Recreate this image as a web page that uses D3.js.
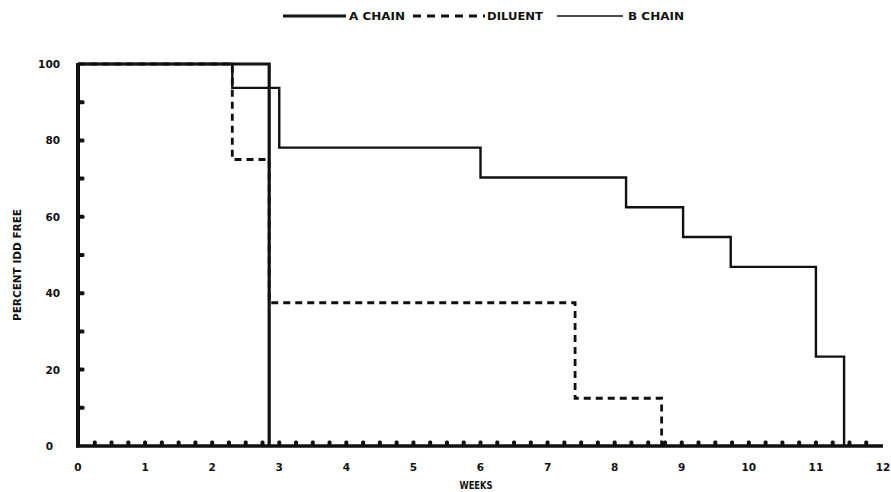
<!DOCTYPE html>
<html><head><meta charset="utf-8">
<script src="https://cdn.jsdelivr.net/npm/d3@7"></script>
<style>html,body{margin:0;padding:0;background:#fff;} svg{display:block;}</style>
</head><body>
<svg id="c" width="891" height="492"></svg>
<script>
// ---- data ----
const aChainTimes = [0, 2.85];
const aChainValues = [100, 0];
const diluentTimes = [0, 2.3, 2.85, 7.41, 8.7];
const diluentValues = [100, 75, 37.5, 12.5, 0];
const bChainTimes = [0, 2.3, 3.0, 6.0, 8.17, 9.02, 9.73, 11.0, 11.42];
const bChainValues = [100, 93.75, 78.1, 70.3, 62.5, 54.7, 46.9, 23.4, 0];
const xTickLabels = [0,1,2,3,4,5,6,7,8,9,10,11,12];
const yTickLabels = [0,20,40,60,80,100];
const legendLabels = ["A CHAIN", "DILUENT", "B CHAIN"];
const xTitle = "WEEKS";
const yTitle = "PERCENT IDD FREE";

const svg = d3.select("#c");
const x = d3.scaleLinear().domain([0,12]).range([78,883]);
const y = d3.scaleLinear().domain([0,100]).range([446,64]);
const ink = "#111";
const font = "'DejaVu Sans', sans-serif";

// axes lines
svg.append("line").attr("x1",x(0)).attr("x2",x(0)).attr("y1",y(0)+1.5).attr("y2",y(100)-1)
  .attr("stroke",ink).attr("stroke-width",4);
svg.append("line").attr("x1",x(0)-2).attr("x2",x(12)).attr("y1",y(0)).attr("y2",y(0))
  .attr("stroke",ink).attr("stroke-width",3.5);

// minor bumps
const xMinor = d3.range(1,48).map(i=>i*0.25);
svg.append("g").selectAll("rect").data(xMinor).join("rect")
  .attr("x",d=>x(d)-2).attr("y",y(0)-5.5).attr("width",4).attr("height",5).attr("rx",1.5)
  .attr("fill",ink);
const yMinor = d3.range(10,100,10);
svg.append("g").selectAll("rect").data(yMinor).join("rect")
  .attr("x",x(0)).attr("y",d=>y(d)-2).attr("width",6.5).attr("height",4).attr("rx",1.5)
  .attr("fill",ink);

// tick labels
svg.append("g").selectAll("text").data(xTickLabels).join("text")
  .attr("x",d=>x(d)).attr("y",471).attr("text-anchor","middle")
  .attr("font-family",font).attr("font-weight","bold").attr("font-size",10.5).attr("fill",ink)
  .text(d=>d);
svg.append("g").selectAll("text").data(yTickLabels).join("text")
  .attr("x",d=> d===0 ? 53 : 60).attr("y",d=>y(d)+4).attr("text-anchor","end")
  .attr("font-family",font).attr("font-weight","bold").attr("font-size",10.5).attr("fill",ink)
  .text(d=>d);

// axis titles
svg.append("text").attr("x",476).attr("y",489).attr("text-anchor","middle")
  .attr("font-family",font).attr("font-weight","bold").attr("font-size",10.5)
  .attr("textLength",33).attr("lengthAdjust","spacingAndGlyphs").attr("fill",ink).text(xTitle);
svg.append("text").attr("transform","translate(21,265) rotate(-90)").attr("text-anchor","middle")
  .attr("font-family",font).attr("font-weight","bold").attr("font-size",10.5)
  .attr("textLength",112).attr("lengthAdjust","spacingAndGlyphs").attr("fill",ink).text(yTitle);

// step lines
const stepLine = d3.line().x(d=>x(d[0])).y(d=>y(d[1])).curve(d3.curveStepAfter);
const zipS = (t,v)=>t.map((ti,i)=>[ti,v[i]]);
svg.append("path").attr("d",stepLine(zipS(bChainTimes,bChainValues)))
  .attr("fill","none").attr("stroke",ink).attr("stroke-width",2.4);
svg.append("path").attr("d",stepLine(zipS(diluentTimes,diluentValues)))
  .attr("fill","none").attr("stroke",ink).attr("stroke-width",2.8).attr("stroke-dasharray","7,5");
svg.append("path").attr("d",stepLine(zipS(aChainTimes,aChainValues)))
  .attr("fill","none").attr("stroke",ink).attr("stroke-width",3.2);

// legend
const lg = svg.append("g");
const ly = 16;
lg.append("line").attr("x1",283).attr("x2",346).attr("y1",ly).attr("y2",ly).attr("stroke",ink).attr("stroke-width",3);
lg.append("line").attr("x1",413).attr("x2",485).attr("y1",ly).attr("y2",ly).attr("stroke",ink).attr("stroke-width",3).attr("stroke-dasharray","8,6");
lg.append("line").attr("x1",557).attr("x2",623).attr("y1",ly).attr("y2",ly).attr("stroke",ink).attr("stroke-width",1.5);
const lx = [349, 487, 628];
lg.selectAll("text").data(legendLabels).join("text")
  .attr("x",(d,i)=>lx[i]).attr("y",ly+4).attr("font-family",font).attr("font-weight","bold")
  .attr("font-size",10).attr("textLength",56).attr("lengthAdjust","spacingAndGlyphs")
  .attr("fill",ink).text(d=>d);
</script>
</body></html>
